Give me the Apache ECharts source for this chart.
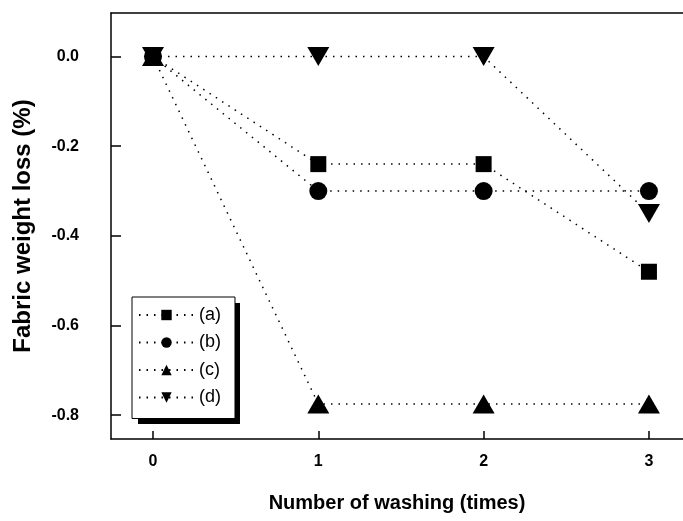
<!DOCTYPE html>
<html>
<head>
<meta charset="utf-8">
<script src="https://cdn.jsdelivr.net/npm/echarts@6/dist/echarts.min.js"></script>
<style>
  html, body { margin: 0; padding: 0; background: #fff; }
  #main { width: 683px; height: 521px; }
</style>
</head>
<body>
<div id="main"></div>
<script>
// washing count on x, weight loss (%) on y
const washes = [0, 1, 2, 3];
const lossA = [0, -0.24, -0.24, -0.48];
const lossB = [0, -0.30, -0.30, -0.30];
const lossC = [0, -0.775, -0.775, -0.775];
const lossD = [0, 0, 0, -0.35];
const names = ['(a)', '(b)', '(c)', '(d)'];
const yTicks = [0, -0.2, -0.4, -0.6, -0.8];

const font = 'Liberation Sans, Arial, sans-serif';
const dotted = { color: '#000', width: 1.5, type: [1.5, 6] };

function pairs(ys) {
  return washes.map((x, i) => [x, ys[i]]);
}

const chart = echarts.init(document.getElementById('main'));
chart.setOption({
  animation: false,
  backgroundColor: '#fff',
  grid: { left: 111, right: 0, top: 13, bottom: 82 },
  // drop shadow behind the legend box
  graphic: [{
    type: 'rect',
    left: 138, top: 303, z: 3,
    shape: { width: 102, height: 121 },
    style: { fill: '#000' }
  }],
  legend: {
    orient: 'vertical',
    left: 132,
    top: 297,
    z: 5,
    padding: [9, 14, 12, 6],
    itemWidth: 55,
    itemHeight: 13,
    itemGap: 9.5,
    backgroundColor: '#fff',
    borderColor: '#000',
    borderWidth: 1,
    textStyle: { fontFamily: font, fontSize: 18, color: '#000' },
    data: names
  },
  xAxis: [{
    type: 'value',
    min: -0.254,
    max: 3.206,
    name: 'Number of washing (times)',
    nameLocation: 'middle',
    nameGap: 54,
    nameTextStyle: { fontFamily: font, fontSize: 20, fontWeight: 'bold', color: '#000' },
    splitLine: { show: false },
    axisLine: { onZero: false, lineStyle: { color: '#000', width: 1.5 } },
    axisTick: { inside: true, length: 8, customValues: washes, lineStyle: { color: '#000', width: 1.5 } },
    axisLabel: { customValues: washes, margin: 15, fontFamily: font, fontSize: 16, fontWeight: 'bold', color: '#000' }
  }, {
    type: 'value',
    position: 'top',
    min: -0.254,
    max: 3.206,
    splitLine: { show: false },
    axisLine: { onZero: false, lineStyle: { color: '#000', width: 1.5 } },
    axisTick: { show: false },
    axisLabel: { show: false }
  }],
  yAxis: {
    type: 'value',
    min: -0.853,
    max: 0.097,
    name: 'Fabric weight loss (%)',
    nameLocation: 'middle',
    nameGap: 76,
    nameTextStyle: { fontFamily: font, fontSize: 24, fontWeight: 'bold', color: '#000' },
    splitLine: { show: false },
    axisLine: { onZero: false, lineStyle: { color: '#000', width: 1.5 } },
    axisTick: { inside: true, length: 10, customValues: yTicks, lineStyle: { color: '#000', width: 1.5 } },
    axisLabel: {
      customValues: yTicks,
      margin: 32,
      fontFamily: font, fontSize: 16, fontWeight: 'bold', color: '#000',
      formatter: v => v.toFixed(1)
    }
  },
  series: [
    { name: names[0], type: 'line', data: pairs(lossA), symbol: 'rect', symbolSize: 16,
      lineStyle: dotted, itemStyle: { color: '#000' } },
    { name: names[1], type: 'line', data: pairs(lossB), symbol: 'circle', symbolSize: 18,
      lineStyle: dotted, itemStyle: { color: '#000' } },
    { name: names[2], type: 'line', data: pairs(lossC), symbol: 'triangle', symbolSize: [22, 19],
      lineStyle: dotted, itemStyle: { color: '#000' } },
    { name: names[3], type: 'line', data: pairs(lossD), symbol: 'triangle', symbolRotate: 180, symbolSize: [22, 19],
      lineStyle: dotted, itemStyle: { color: '#000' } }
  ]
});
</script>
</body>
</html>
